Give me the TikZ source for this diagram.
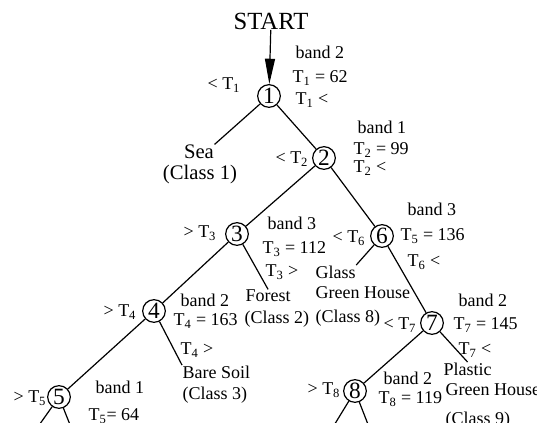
\documentclass[tikz,border=0pt]{standalone}
\usepackage{fontspec}
\setmainfont{Liberation Serif}
\usetikzlibrary{arrows.meta}
\newcommand{\thr}[1]{T\textsubscript{#1}}

\begin{document}
\begin{tikzpicture}[x=0.75pt, y=-0.75pt, line width=0.9pt,
  >={Triangle[length=19pt, width=7.5pt]},
  st/.style={circle, draw, line width=0.9pt, minimum size=17pt, inner sep=0pt,
             font=\fontsize{17.5}{17.5}\selectfont},
  lab/.style={anchor=west, inner sep=0pt, font=\fontsize{13.5}{15}\selectfont},
  big/.style={inner sep=0pt, font=\fontsize{15.5}{17}\selectfont}]
  \useasboundingbox (0,0) rectangle (537,423);
  \fill[white] (0,0) rectangle (537,423);
  \clip (0,0) rectangle (537,423);

  \node[inner sep=0pt, font=\fontsize{18.5}{19}\selectfont] (start) at (271,21) {START};

  \node[st] (n1) at (269,96)  {1};
  \node[st] (n2) at (324,158) {2};
  \node[st] (n3) at (237,234) {3};
  \node[st] (n6) at (382,236) {6};
  \node[st] (n4) at (154,311) {4};
  \node[st] (n7) at (432,323) {7};
  \node[st] (n5) at (59,397)  {5};
  \node[st] (n8) at (355,391) {8};

  \node[lab] (b1) at (295,52)  {band 2};
  \node[lab] (e1) at (292,78)  {\thr{1} = 62};
  \node[lab] (l1) at (207,85)  {< \thr{1}};
  \node[lab] (r1) at (295,100) {\thr{1} <};

  \node[lab] (b2) at (357,127) {band 1};
  \node[lab] (e2) at (353,150) {\thr{2} = 99};
  \node[lab] (l2) at (275,159) {< \thr{2}};
  \node[lab] (r2) at (353,168) {\thr{2} <};

  \node[lab] (b3) at (267,223) {band 3};
  \node[lab] (e3) at (262,249) {\thr{3} = 112};
  \node[lab] (l3) at (183,233) {> \thr{3}};
  \node[lab] (r3) at (265,272) {\thr{3} >};

  \node[lab] (b6) at (407,209) {band 3};
  \node[lab] (e6) at (400,236) {\thr{5} = 136};
  \node[lab] (l6) at (332,238) {< \thr{6}};
  \node[lab] (r6) at (407,262) {\thr{6} <};

  \node[lab] (b4) at (180,300) {band 2};
  \node[lab] (e4) at (173,321) {\thr{4} = 163};
  \node[lab] (l4) at (103,312) {> \thr{4}};
  \node[lab] (r4) at (180,350) {\thr{4} >};

  \node[lab] (b7) at (458,300) {band 2};
  \node[lab] (e7) at (453,325) {\thr{7} = 145};
  \node[lab] (l7) at (383,325) {< \thr{7}};
  \node[lab] (r7) at (458,350) {\thr{7} <};

  \node[lab] (b5) at (95,387)  {band 1};
  \node[lab] (e5) at (88,416)  {\thr{5}= 64};
  \node[lab] (l5) at (13,398)  {> \thr{5}};

  \node[lab] (b8) at (383,378) {band 2};
  \node[lab] (e8) at (378,399) {\thr{8} = 119};
  \node[lab] (l8) at (307,390) {> \thr{8}};

  \node[big] (sea)  at (199,152) {Sea};
  \node[big] (cls1) at (200,175) {(Class 1)};
  \node[lab] (forest) at (245,296) {Forest};
  \node[lab] (cls2)   at (244,319) {(Class 2)};
  \node[lab] (glass)  at (315,272) {Glass};
  \node[lab] (gh8)    at (315,293) {Green House};
  \node[lab] (cls8)   at (315,318) {(Class 8)};
  \node[lab] (bare)   at (182,372) {Bare Soil};
  \node[lab] (cls3)   at (182,395) {(Class 3)};
  \node[lab] (plastic) at (443,369) {Plastic};
  \node[lab] (gh9)     at (445,390) {Green House};
  \node[lab] (cls9)    at (445,420) {(Class 9)};

  \coordinate (s5a) at (25,445);
  \coordinate (s5b) at (80,450);
  \coordinate (s8a) at (322,445);
  \coordinate (s8b) at (378,450);

  \draw[->] (start) -- (n1);
  \draw (n1) -- (sea.north east);
  \draw (n1) -- (n2);
  \draw (n2) -- (n3);
  \draw (n2) -- (n6);
  \draw (n3) -- (n4);
  \draw (n3) -- (forest.north);
  \draw (n6) -- (glass.north east);
  \draw (n6) -- (n7);
  \draw (n4) -- (n5);
  \draw (n4) -- (bare.north west);
  \draw (n7) -- (n8);
  \draw (n7) -- (plastic.north);
  \draw (n5) -- (s5a);
  \draw (n5) -- (s5b);
  \draw (n8) -- (s8a);
  \draw (n8) -- (s8b);
\end{tikzpicture}
\end{document}
